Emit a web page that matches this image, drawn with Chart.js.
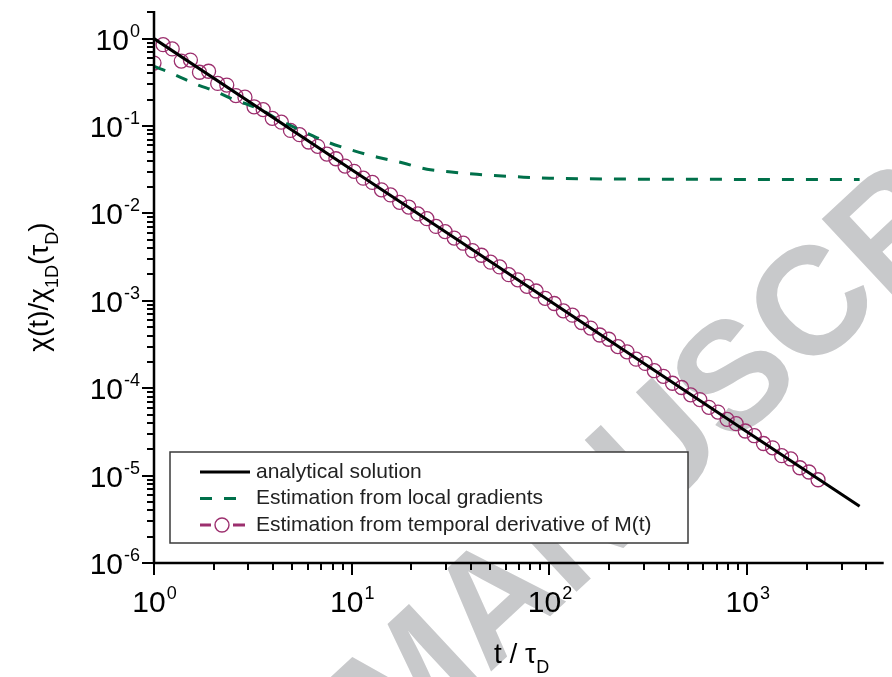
<!DOCTYPE html>
<html>
<head>
<meta charset="utf-8">
<script src="https://cdn.jsdelivr.net/npm/chart.js@4.4.0/dist/chart.umd.min.js"></script>
<style>
  html, body { margin: 0; padding: 0; background: #fff; }
</style>
</head>
<body>
<canvas id="c" width="892" height="677"></canvas>
<script>
const FONT = '"Liberation Sans", Arial, Helvetica, sans-serif';

// analytical solution
const exactT = [1, 10, 100, 1000, 3700];
const exactY = [1, 0.0316, 0.001, 3.16e-5, 4.45e-6];

// estimation from local gradients
const gradT = [1, 1.2, 1.4, 1.7, 2, 2.5, 3, 3.5, 4.3, 5.8, 7.6, 10.3, 13.5, 18, 24, 31, 43, 55, 74, 100, 150, 250, 500, 1000, 2000, 3700];
const gradY = [0.48, 0.41, 0.35, 0.29, 0.255, 0.203, 0.175, 0.152, 0.117, 0.085, 0.065, 0.052, 0.044, 0.038, 0.032, 0.030, 0.028, 0.027, 0.026, 0.0253, 0.0249, 0.0247, 0.0246, 0.0245, 0.0245, 0.0245];

// estimation from temporal derivative of M(t)
const derivT = [1, 1.112, 1.236, 1.374, 1.528, 1.698, 1.888, 2.099, 2.333, 2.594, 2.884, 3.206, 3.565, 3.963, 4.406, 4.898,
  5.445, 6.053, 6.730, 7.482, 8.318, 9.247, 10.28, 11.43, 12.71, 14.13, 15.70, 17.46, 19.41, 21.58, 23.99, 26.67, 29.65,
  32.96, 36.64, 40.74, 45.29, 50.35, 55.98, 62.23, 69.18, 76.91, 85.51, 95.06, 105.7, 117.5, 130.6, 145.2, 161.4, 179.5,
  199.5, 221.8, 246.6, 274.2, 304.8, 338.8, 376.7, 418.8, 465.6, 517.6, 575.4, 639.7, 711.2, 790.7, 879.0, 977.2, 1086,
  1208, 1343, 1493, 1660, 1845, 2051, 2280];
const derivY = [0.525, 0.853, 0.762, 0.553, 0.568, 0.412, 0.423, 0.307, 0.294, 0.223, 0.214, 0.166, 0.154, 0.1225, 0.1107, 0.0891,
  0.0796, 0.0656, 0.0586, 0.0478, 0.0422, 0.0348, 0.0303, 0.0253, 0.0226, 0.0186, 0.01626, 0.0134, 0.01183, 0.00986, 0.00871,
  0.0071, 0.00619, 0.00522, 0.00456, 0.00376, 0.00332, 0.00277, 0.00244, 0.00199, 0.001738, 0.001466, 0.001294, 0.001067,
  0.000931, 0.000767, 0.000685, 0.000565, 0.000488, 0.000406, 0.000363, 0.000299, 0.000261, 0.000215, 0.000192, 0.0001585,
  0.0001368, 0.000114, 0.0001019, 8.39e-5, 7.41e-5, 6.04e-5, 5.33e-5, 4.4e-5, 3.93e-5, 3.24e-5, 2.86e-5, 2.33e-5, 2.08e-5,
  1.69e-5, 1.55e-5, 1.23e-5, 1.10e-5, 8.97e-6];

// ticks
const xMajor = [1, 10, 100, 1000];
const xMajorLabels = ['0', '1', '2', '3'];
const xMinor = [2, 3, 4, 5, 6, 7, 8, 9, 20, 30, 40, 50, 60, 70, 80, 90, 200, 300, 400, 500, 600, 700, 800, 900, 2000, 3000, 4000];
const yMajor = [1, 0.1, 0.01, 0.001, 1e-4, 1e-5, 1e-6];
const yMajorLabels = ['0', '-1', '-2', '-3', '-4', '-5', '-6'];
const yMinor = [2, 0.2, 0.3, 0.4, 0.5, 0.6, 0.7, 0.8, 0.9, 0.02, 0.03, 0.04, 0.05, 0.06, 0.07, 0.08, 0.09,
  0.002, 0.003, 0.004, 0.005, 0.006, 0.007, 0.008, 0.009, 2e-4, 3e-4, 4e-4, 5e-4, 6e-4, 7e-4, 8e-4, 9e-4,
  2e-5, 3e-5, 4e-5, 5e-5, 6e-5, 7e-5, 8e-5, 9e-5, 2e-6, 3e-6, 4e-6, 5e-6, 6e-6, 7e-6, 8e-6, 9e-6];

const legendLabels = ['analytical solution', 'Estimation from local gradients', 'Estimation from temporal derivative of M(t)'];

const BLACK = '#000000';
const GREEN = '#00704a';
const PURPLE = '#9c2f6e';

function pts(xs, ys) {
  return xs.map((x, i) => ({ x: x, y: ys[i] }));
}

function drawPow(ctx, x, y, exp, align) {
  ctx.font = '30px ' + FONT;
  const wb = ctx.measureText('10').width;
  ctx.font = '18px ' + FONT;
  const we = ctx.measureText(exp).width;
  const x0 = align === 'center' ? x - (wb + we) / 2 : x - wb - we;
  ctx.textAlign = 'left';
  ctx.textBaseline = 'alphabetic';
  ctx.font = '30px ' + FONT;
  ctx.fillText('10', x0, y);
  ctx.font = '18px ' + FONT;
  ctx.fillText(exp, x0 + wb + 1, y - 13);
}

// pieces of text with subscripts, drawn one after the other
function drawParts(ctx, parts, x, y) {
  let cx = x;
  parts.forEach(p => {
    ctx.font = (p[1] ? '18px ' : '28px ') + FONT;
    ctx.fillText(p[0], cx, y + (p[1] ? 10 : 0));
    cx += ctx.measureText(p[0]).width;
  });
}
function partsWidth(ctx, parts) {
  let w = 0;
  parts.forEach(p => {
    ctx.font = (p[1] ? '18px ' : '28px ') + FONT;
    w += ctx.measureText(p[0]).width;
  });
  return w;
}

const decor = {
  id: 'decor',
  beforeDraw(chart) {
    const ctx = chart.ctx;
    ctx.save();
    ctx.fillStyle = '#fff';
    ctx.fillRect(0, 0, chart.width, chart.height);
    // watermark
    ctx.translate(395, 761);
    ctx.rotate(-43 * Math.PI / 180);
    ctx.fillStyle = '#c8c9cb';
    ctx.font = 'bold 153px ' + FONT;
    ctx.textAlign = 'left';
    ctx.textBaseline = 'alphabetic';
    const pre = 'ACCEPTED ';
    ctx.fillText(pre, -ctx.measureText(pre).width, 0);
    ctx.fillText('MANUSCRIPT', 0, 0);
    ctx.restore();
  },
  afterDraw(chart) {
    const ctx = chart.ctx;
    const xs = chart.scales.x, ys = chart.scales.y;
    const a = chart.chartArea;
    ctx.save();
    ctx.strokeStyle = '#000';
    ctx.fillStyle = '#000';

    // ticks
    ctx.lineWidth = 2;
    ctx.beginPath();
    xMajor.forEach(v => { const p = Math.round(xs.getPixelForValue(v)); ctx.moveTo(p, a.bottom); ctx.lineTo(p, a.bottom + 12); });
    xMinor.forEach(v => { const p = Math.round(xs.getPixelForValue(v)); ctx.moveTo(p, a.bottom); ctx.lineTo(p, a.bottom + 7); });
    yMajor.forEach(v => { const p = Math.round(ys.getPixelForValue(v)); ctx.moveTo(a.left, p); ctx.lineTo(a.left - 12, p); });
    yMinor.forEach(v => { const p = Math.round(ys.getPixelForValue(v)); ctx.moveTo(a.left, p); ctx.lineTo(a.left - 7, p); });
    ctx.stroke();

    // axis lines
    ctx.lineWidth = 2.5;
    ctx.beginPath();
    ctx.moveTo(a.left, a.top);
    ctx.lineTo(a.left, a.bottom);
    ctx.lineTo(a.right, a.bottom);
    ctx.stroke();

    // tick labels
    xMajor.forEach((v, i) => drawPow(ctx, xs.getPixelForValue(v), a.bottom + 49, xMajorLabels[i], 'center'));
    yMajor.forEach((v, i) => drawPow(ctx, a.left - 15, ys.getPixelForValue(v) + 11, yMajorLabels[i], 'right'));

    // axis titles
    ctx.textAlign = 'left';
    ctx.textBaseline = 'alphabetic';
    const xt = [['t / τ', 0], ['D', 1]];
    drawParts(ctx, xt, 494, 663);

    const yt = [['χ(t)/χ', 0], ['1D', 1], ['(τ', 0], ['D', 1], [')', 0]];
    ctx.save();
    ctx.translate(48, 287);
    ctx.rotate(-Math.PI / 2);
    drawParts(ctx, yt, -partsWidth(ctx, yt) / 2, 0);
    ctx.restore();

    // legend box
    ctx.fillStyle = '#fff';
    ctx.fillRect(170, 452, 518, 91);
    ctx.strokeStyle = '#3a3a3a';
    ctx.lineWidth = 1.5;
    ctx.strokeRect(170, 452, 518, 91);

    const rows = [472, 498.5, 525];
    ctx.lineCap = 'butt';
    // solid
    ctx.strokeStyle = BLACK; ctx.lineWidth = 3;
    ctx.beginPath(); ctx.moveTo(200, rows[0]); ctx.lineTo(250, rows[0]); ctx.stroke();
    // dashed
    ctx.strokeStyle = GREEN; ctx.lineWidth = 3;
    ctx.beginPath(); ctx.moveTo(200, rows[1]); ctx.lineTo(212, rows[1]); ctx.moveTo(224, rows[1]); ctx.lineTo(236, rows[1]); ctx.stroke();
    // line + circle
    ctx.strokeStyle = PURPLE; ctx.lineWidth = 3;
    ctx.beginPath(); ctx.moveTo(200, rows[2]); ctx.lineTo(211, rows[2]); ctx.moveTo(233, rows[2]); ctx.lineTo(245, rows[2]); ctx.stroke();
    ctx.lineWidth = 1.4;
    ctx.beginPath(); ctx.arc(222, rows[2], 7, 0, Math.PI * 2); ctx.stroke();

    ctx.fillStyle = '#222';
    ctx.font = '21px ' + FONT;
    ctx.textBaseline = 'middle';
    legendLabels.forEach((t, i) => ctx.fillText(t, 256, rows[i]));
    ctx.restore();
  }
};

const chart = new Chart(document.getElementById('c'), {
  type: 'line',
  data: {
    datasets: [
      {
        label: legendLabels[0],
        data: pts(exactT, exactY),
        borderColor: BLACK,
        borderWidth: 3,
        pointRadius: 0,
        fill: false,
        order: 0
      },
      {
        label: legendLabels[1],
        data: pts(gradT, gradY),
        borderColor: GREEN,
        borderWidth: 3,
        borderDash: [12, 12],
        pointRadius: 0,
        cubicInterpolationMode: 'monotone',
        fill: false,
        order: 1
      },
      {
        label: legendLabels[2],
        data: pts(derivT, derivY),
        showLine: false,
        borderColor: PURPLE,
        backgroundColor: 'rgba(0,0,0,0)',
        pointRadius: 7,
        pointBorderWidth: 1.3,
        pointBorderColor: PURPLE,
        pointBackgroundColor: 'rgba(0,0,0,0)',
        order: 2
      }
    ]
  },
  options: {
    responsive: false,
    animation: false,
    events: [],
    layout: { padding: { left: 0, right: 0, top: 11, bottom: 0 } },
    scales: {
      x: {
        type: 'logarithmic',
        position: 'bottom',
        min: 1,
        max: 4898,
        grid: { display: false },
        border: { display: false },
        ticks: { display: false },
        afterFit: s => { s.height = 114; }
      },
      y: {
        type: 'logarithmic',
        position: 'left',
        min: 1e-6,
        max: 2.07,
        grid: { display: false },
        border: { display: false },
        ticks: { display: false },
        afterFit: s => { s.width = 154; }
      }
    },
    plugins: {
      legend: { display: false },
      tooltip: { enabled: false }
    }
  },
  plugins: [decor]
});
</script>
</body>
</html>
